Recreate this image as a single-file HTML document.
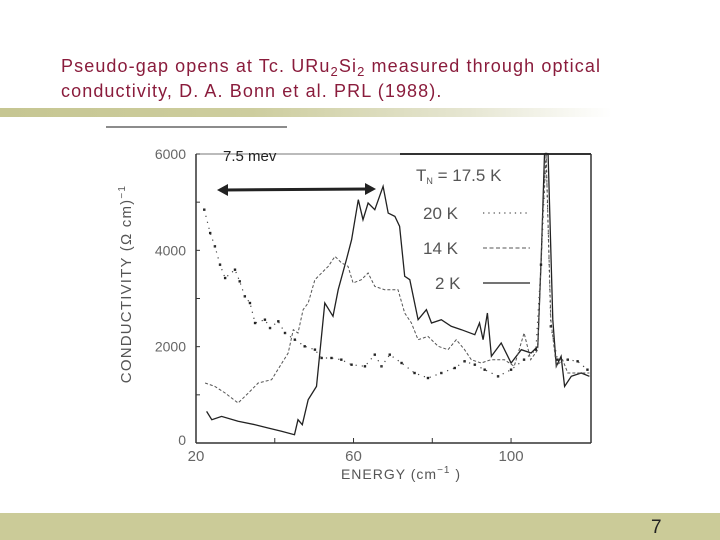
<!DOCTYPE html>
<html><head><meta charset="utf-8"><style>
html,body{margin:0;padding:0;background:#fff;}
#page{position:relative;width:720px;height:540px;overflow:hidden;font-family:"Liberation Sans",sans-serif;}
#title{position:absolute;left:61px;top:54px;font-size:18px;line-height:25px;color:#8a1c3c;letter-spacing:1.1px;}
#title sub{font-size:13px;vertical-align:-4px;line-height:0;}
#band{position:absolute;left:0;top:108px;width:720px;height:9px;background:linear-gradient(to right,#c6c692 0%,#cdcd9e 35%,#e6e6d2 65%,#fff 85%);}
#footer{position:absolute;left:0;top:513px;width:720px;height:27px;background:#cbcb98;}
#pnum{position:absolute;left:651px;top:517px;font-size:19px;color:#222;}
</style></head><body>
<div id="page">
<div id="title">Pseudo-gap opens at Tc. URu<sub>2</sub>Si<sub>2</sub> measured through optical<br>conductivity, D. A. Bonn et al. PRL (1988).</div>
<div id="band"></div>
<svg id="chart" width="720" height="540" style="position:absolute;left:0;top:0" font-family="Liberation Sans, sans-serif">
<line x1="106" y1="127" x2="287" y2="127" stroke="#666" stroke-width="1.5"/>
<g id="axes"></g>
<g id="series"></g>
<g id="legend" fill="#555" font-size="17">
<text x="416" y="181">T<tspan font-size="9" dy="3">N</tspan><tspan dy="-3"> =  17.5  K</tspan></text>
<text x="423" y="219">20  K</text>
<line x1="483" y1="213" x2="530" y2="213" stroke="#555" stroke-width="1.3" stroke-dasharray="1.3 4"/>
<text x="423" y="254">14  K</text>
<line x1="483" y1="248" x2="530" y2="248" stroke="#555" stroke-width="1" stroke-dasharray="4 2.5"/>
<text x="435" y="289">2  K</text>
<line x1="483" y1="283" x2="530" y2="283" stroke="#222" stroke-width="1.2"/>
</g>
<text x="223" y="161" font-size="15" fill="#222">7.5 mev</text>
<g>
<line x1="224" y1="190" x2="369" y2="189" stroke="#222" stroke-width="3"/>
<polygon points="217,190 228,184 228,196" fill="#222"/>
<polygon points="376,189 365,183 365,195" fill="#222"/>
</g>
<text x="401" y="479" font-size="14" letter-spacing="1" fill="#555" text-anchor="middle">ENERGY  (cm<tspan font-size="10" dy="-6">−1</tspan><tspan dy="6"> )</tspan></text>
<text transform="translate(131,284) rotate(-90)" font-size="15" letter-spacing="1.2" fill="#555" text-anchor="middle">CONDUCTIVITY  (Ω cm)<tspan font-size="10" dy="-6">−1</tspan></text>
</svg>
<div id="footer"></div>
<div id="pnum">7</div>
</div>
<script>
const xTicks=[20,60,100];
const xMinor=[40,80];
const yTicks=[0,2000,4000,6000];
const yMinor=[1000,3000,5000];
const x20K=[22.1,23.6,24.8,26.1,27.4,29.9,31.1,32.4,33.7,35,37.5,38.8,40.9,42.6,45.1,47.6,50.2,51.9,54.4,56.9,59.5,62.9,65.4,67.1,69.2,72.2,75.5,78.9,82.3,85.7,88.2,90.8,93.3,96.7,100,103.3,106.3,107.6,108.9,110.1,111.8,114.4,116.9,119.4];
const y20K=[4844,4359,4083,3702,3425,3598,3356,3045,2906,2491,2560,2387,2526,2284,2145,2007,1938,1765,1765,1730,1626,1592,1834,1592,1834,1661,1453,1349,1453,1557,1696,1626,1522,1384,1522,1730,1938,3702,6000,2422,1730,1730,1696,1522];
const x14K=[22.3,24.8,27.4,30.7,33.3,35.8,39.2,41.3,43.4,44.7,45.9,47.2,48.5,50.2,51.9,53.6,55.3,57,58.6,59.9,62,63.7,65.4,67.9,71.3,73,74.7,76.4,78.9,81.5,84,86.1,88.2,89.9,92.4,94.9,98.3,100.8,103.3,105,106.8,108,108.9,110.1,111.5,113.1,114.4,116.9,119.9];
const y14K=[1246,1176,1038,830,1038,1246,1315,1592,1868,2353,2284,2768,2906,3391,3529,3668,3875,3737,3668,3322,3391,3529,3252,3183,3183,2699,2491,2145,2214,2007,1938,2145,1938,1730,1661,1730,1730,1592,2284,1730,1938,4636,6000,2560,1592,1730,1453,1453,1453];
const x2K=[22.7,24,26.5,30.7,35,38.3,41.7,45,45.9,47,48.5,50.6,52.7,54.8,56.1,58.2,59.5,61.2,62.4,63.7,65.4,67.5,68.8,70.5,71.7,73,74.3,76.4,78.5,79.8,82.3,84.8,87.4,90.8,92,92.9,94,95,97.5,100,102.6,105.1,106.8,107.7,108.5,109.4,110.6,111.5,112.7,113.6,115.3,117.8,119.9];
const y2K=[657,484,553,450,380,311,242,173,484,380,900,1176,2906,2630,3183,3806,4221,5052,4636,4982,4844,5328,4774,4705,4498,3460,3391,2560,2768,2491,2560,2422,2353,2249,2491,2145,2699,1800,2076,1661,1938,1868,2007,3944,6000,6000,2560,1592,1800,1176,1384,1453,1384];

const X0=196,X1=591,Y0=443,Y1=154,XMIN=20,XMAX=120.3,YMAX=6000;
function sx(v){return X0+(v-XMIN)/(XMAX-XMIN)*(X1-X0);}
function sy(v){return Y0-v/YMAX*(Y0-Y1);}
const NS='http://www.w3.org/2000/svg';
function mk(tag,attrs,parent){const e=document.createElementNS(NS,tag);for(const k in attrs)e.setAttribute(k,attrs[k]);parent.appendChild(e);return e;}
const axes=document.getElementById('axes');
const series=document.getElementById('series');
let e;
e=mk('line',{x1:X0,y1:Y1,x2:X0,y2:Y0,stroke:'#333','stroke-width':1.5},axes);


e=mk('line',{x1:X0,y1:Y0,x2:X1,y2:Y0,stroke:'#333','stroke-width':1.5},axes);


e=mk('line',{x1:X0,y1:Y1,x2:400,y2:Y1,stroke:'#777','stroke-width':1},axes);


e=mk('line',{x1:400,y1:Y1,x2:X1,y2:Y1,stroke:'#333','stroke-width':2},axes);


e=mk('line',{x1:X1,y1:Y1,x2:X1,y2:Y0,stroke:'#333','stroke-width':1.5},axes);


xTicks.concat(xMinor).forEach(v=>{
  e=mk('line',{x1:sx(v),y1:Y0,x2:sx(v),y2:Y0-5,stroke:'#333','stroke-width':1},axes);
  
  
});
xTicks.forEach(v=>{
  e=mk('text',{x:sx(v),y:461,'font-size':15,fill:'#666','text-anchor':'middle'},axes);
  e.textContent=String(v);
  
  
});
yTicks.concat(yMinor).forEach(v=>{
  e=mk('line',{x1:X0,y1:sy(v),x2:X0+4,y2:sy(v),stroke:'#333','stroke-width':1},axes);
  
  
});
yTicks.forEach(v=>{
  e=mk('text',{x:186,y:sy(v)+5-(v===0?3:0),'font-size':14,fill:'#666','text-anchor':'end'},axes);
  e.textContent=String(v);
  
  
});
function pts(xs,ys){return xs.map((v,i)=>sx(v).toFixed(1)+','+sy(ys[i]).toFixed(1)).join(' ');}
e=mk('polyline',{points:pts(x2K,y2K),fill:'none',stroke:'#222','stroke-width':1.3},series);


e=mk('polyline',{points:pts(x14K,y14K),fill:'none',stroke:'#555','stroke-width':1,'stroke-dasharray':'3 2'},series);


x20K.forEach((v,i)=>{
  e=mk('rect',{x:sx(v)-1.2,y:sy(y20K[i])-1.2,width:2.4,height:2.4,fill:'#222'},series);
  
  
});
e=mk('polyline',{points:pts(x20K,y20K),fill:'none',stroke:'#444','stroke-width':1.2,'stroke-dasharray':'1.2 5'},series);


</script>
</body></html>
